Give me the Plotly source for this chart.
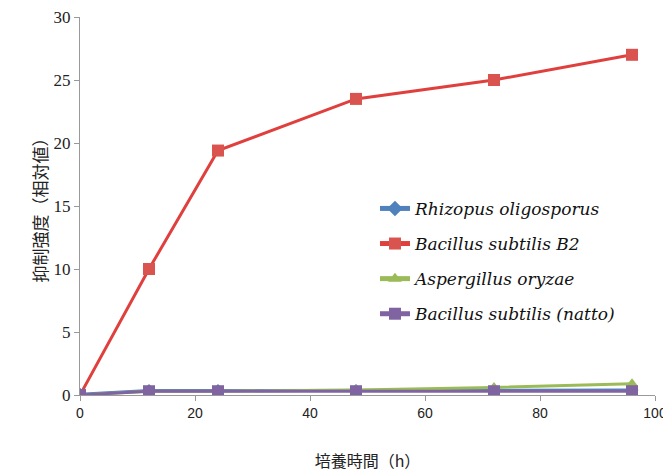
import plotly.graph_objects as go

hours = [0, 12, 24, 48, 72, 96]
rhizopus = [0.05, 0.35, 0.35, 0.35, 0.4, 0.4]
b2 = [0.0, 10.0, 19.4, 23.5, 25.0, 27.0]
aspergillus = [0.0, 0.3, 0.3, 0.4, 0.6, 0.9]
natto = [0.0, 0.3, 0.3, 0.3, 0.3, 0.3]

names = ["Rhizopus oligosporus", "Bacillus subtilis B2", "Aspergillus oryzae", "Bacillus subtilis (natto)"]
series = [rhizopus, b2, aspergillus, natto]
colors = ["#4F81BD", "#E0403D", "#9BBB59", "#8064A2"]
marker_colors = ["#4F81BD", "#D9534F", "#9BBB59", "#8064A2"]
symbols = ["diamond", "square", "triangle-up", "square"]
sizes = [10, 12, 11, 12]

fig = go.Figure()
for i, (n, s, c, mc, sym, sz) in enumerate(zip(names, series, colors, marker_colors, symbols, sizes)):
    fig.add_trace(go.Scatter(
        x=hours, y=s, mode="lines+markers", name="<i>" + n + "</i>",
        legendgroup="g%d" % i,
        line=dict(color=c, width=3),
        marker=dict(symbol=sym, size=sz, color=mc),
    ))

fig.update_layout(
    width=663, height=467,
    margin=dict(l=72, r=16, t=9, b=80),
    paper_bgcolor="white", plot_bgcolor="white",
    showlegend=True,
    legend=dict(
        x=0.513, y=0.54, xanchor="left", yanchor="top",
        font=dict(family="DejaVu Serif, Liberation Serif, serif", size=17, color="#111"),
        bgcolor="rgba(255,255,255,0.9)",
        tracegroupgap=10, itemsizing="constant",
    ),
    xaxis=dict(
        range=[0, 100], dtick=20, showgrid=False, zeroline=False, automargin=False,
        ticklabeloverflow="allow",
        showline=True, linecolor="#999", linewidth=1,
        ticks="outside", ticklen=5, tickcolor="#999",
        tickfont=dict(family="Liberation Sans, Arial, sans-serif", size=14, color="#222"),
        title=dict(text="培養時間（h）", font=dict(family="Noto Sans CJK JP", size=16, color="#222"), standoff=36),
    ),
    yaxis=dict(
        range=[0, 30], dtick=5, showgrid=False, zeroline=False, automargin=False,
        ticklabeloverflow="allow",
        showline=True, linecolor="#999", linewidth=1,
        ticks="outside", ticklen=5, tickcolor="#999",
        tickfont=dict(family="Liberation Serif, DejaVu Serif, serif", size=17, color="#222"),
        title=dict(text="抑制強度（相対値）", font=dict(family="Noto Sans CJK JP", size=17, color="#222"), standoff=1),
    ),
)

fig.write_html("out.html")
